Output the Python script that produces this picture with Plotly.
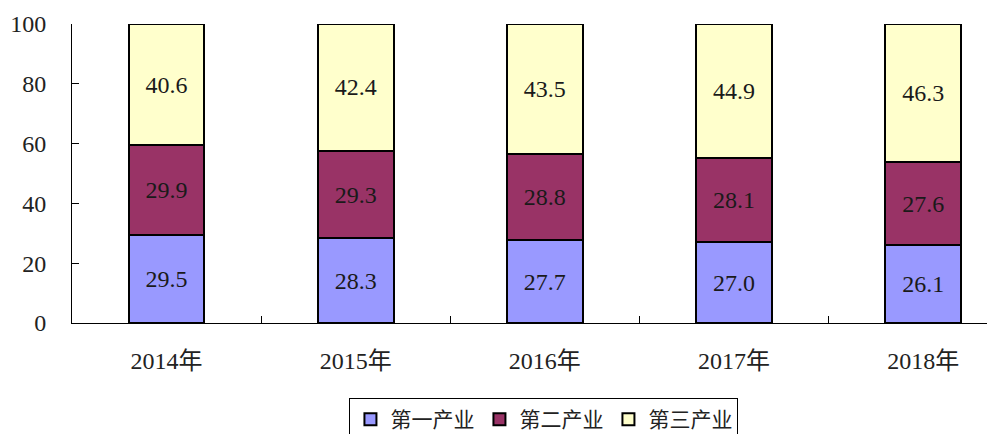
import plotly.graph_objects as go

years = ["2014年", "2015年", "2016年", "2017年", "2018年"]
primary = [29.5, 28.3, 27.7, 27.0, 26.1]
secondary = [29.9, 29.3, 28.8, 28.1, 27.6]
tertiary = [40.6, 42.4, 43.5, 44.9, 46.3]
series_names = ["第一产业", "第二产业", "第三产业"]
colors = ["#9999FF", "#993366", "#FFFFCC"]

FONT = "'Liberation Serif', 'DejaVu Serif', 'Noto Sans CJK SC', serif"

fig = go.Figure()
for name, vals, col in zip(series_names, [primary, secondary, tertiary], colors):
    fig.add_trace(go.Bar(
        x=years, y=vals, name=name,
        marker=dict(color=col, line=dict(color="#000000", width=2)),
        text=[f"{v:.1f}" for v in vals],
        textposition="inside", insidetextanchor="middle",
        textfont=dict(family=FONT, size=24, color="#1a1a1a"),
        constraintext="none",
        width=0.4,
    ))

fig.update_layout(
    barmode="stack",
    width=987, height=426,
    margin=dict(l=64, r=0, t=16, b=111, autoexpand=False),
    plot_bgcolor="white", paper_bgcolor="white",
    font=dict(family=FONT, size=24, color="#222222"),
    showlegend=True,
    legend=dict(
        orientation="h", xref="container", yref="container",
        x=0.543, xanchor="center", y=0.0845, yanchor="top",
        bordercolor="#000000", borderwidth=1,
        font=dict(family="'Noto Sans CJK SC', sans-serif", size=21, color="#222222"),
        itemwidth=30, traceorder="normal",
    ),
    xaxis=dict(
        type="category", range=[-0.5, 4.38], automargin=False,
        showline=True, linecolor="#000000", linewidth=1,
        ticks="inside", tickson="boundaries", ticklen=7, tickcolor="#000000",
        showgrid=False, tickfont=dict(size=24),
        ticklabelstandoff=16,
    ),
    yaxis=dict(
        range=[0, 100], tickvals=[0, 20, 40, 60, 80, 100], automargin=False,
        showline=True, linecolor="#000000", linewidth=1,
        ticks="inside", ticklen=7, tickcolor="#000000",
        showgrid=False, zeroline=False, tickfont=dict(size=24),
        ticklabelstandoff=20,
    ),
)

fig.write_html("out.html")
